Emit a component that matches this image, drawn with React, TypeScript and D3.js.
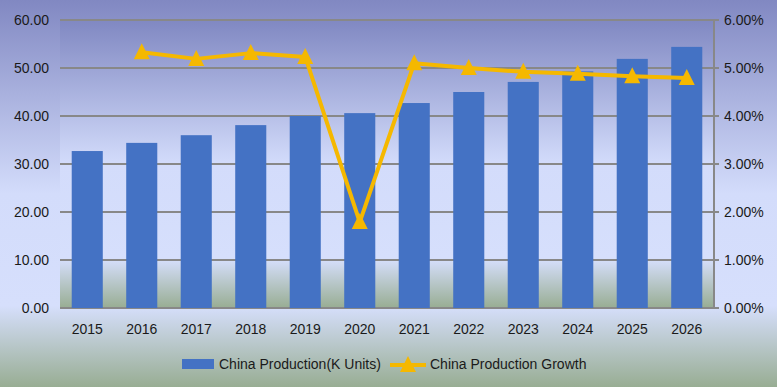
import React from "react";
import * as d3 from "d3";

const years = ["2015","2016","2017","2018","2019","2020","2021","2022","2023","2024","2025","2026"];
const production = [32.7, 34.4, 36.0, 38.1, 40.0, 40.6, 42.7, 45.0, 47.1, 49.3, 51.9, 54.4];
const growth: (number | null)[] = [null, 5.33, 5.19, 5.31, 5.23, 1.79, 5.10, 5.00, 4.92, 4.88, 4.83, 4.79];
const leftTicks = [0, 10, 20, 30, 40, 50, 60];
const rightTicks = [0, 1, 2, 3, 4, 5, 6];

const W = 777, H = 387;
const plot = { left: 60, right: 714, top: 20, bottom: 308 };
const FONT = "'Liberation Sans', Arial, sans-serif";
const TXT = "#1a1a1a";
const BAR = "#4472C4";
const LINE = "#F5B800";
const GRID = "#888888";

export default function App() {
  const x = d3.scaleBand<string>().domain(years).range([plot.left, plot.right]).paddingInner(0.43).paddingOuter(0.215);
  const yL = d3.scaleLinear().domain([0, 60]).range([plot.bottom, plot.top]);
  const yR = d3.scaleLinear().domain([0, 6]).range([plot.bottom, plot.top]);
  const cx = (y: string) => (x(y) as number) + x.bandwidth() / 2;

  const pts = years.map((y, i) => ({ y, v: growth[i] })).filter(d => d.v !== null) as { y: string; v: number }[];
  const line = d3.line<{ y: string; v: number }>().x(d => cx(d.y)).y(d => yR(d.v));
  const tri = (px: number, py: number) => `M${px},${py - 9}L${px + 8},${py + 7}L${px - 8},${py + 7}Z`;

  return (
    <svg width={W} height={H} style={{ position: "absolute", left: 0, top: 0 }} fontFamily={FONT}>
      <defs>
        <linearGradient id="bgOuter" x1="0" y1="0" x2="0" y2="1">
          <stop offset="0" stopColor="#8188c2" />
          <stop offset="0.5" stopColor="#d3dcfb" />
          <stop offset="0.79" stopColor="#d6dffc" />
          <stop offset="1" stopColor="#98ad93" />
        </linearGradient>
        <linearGradient id="bgPlot" x1="0" y1="0" x2="0" y2="1">
          <stop offset="0" stopColor="#8088c2" />
          <stop offset="0.5" stopColor="#d3dcfb" />
          <stop offset="0.83" stopColor="#d6dffc" />
          <stop offset="1" stopColor="#98ad93" />
        </linearGradient>
      </defs>
      <rect x={0} y={0} width={W} height={H} fill="url(#bgOuter)" />
      <rect x={plot.left} y={plot.top} width={plot.right - plot.left} height={plot.bottom - plot.top} fill="url(#bgPlot)" />
      {leftTicks.map(t => (
        <line key={"g" + t} x1={plot.left} x2={plot.right} y1={yL(t)} y2={yL(t)} stroke={GRID} strokeWidth={2} />
      ))}
      {years.map((y, i) => (
        <rect key={y} x={x(y)} y={yL(production[i])} width={x.bandwidth()} height={yL(0) - yL(production[i])} fill={BAR} />
      ))}
      <line x1={plot.right} x2={plot.right} y1={plot.top} y2={plot.bottom} stroke={GRID} strokeWidth={2} />
      {rightTicks.map(t => (
        <line key={"rt" + t} x1={plot.right} x2={plot.right + 5} y1={yR(t)} y2={yR(t)} stroke={GRID} strokeWidth={2} />
      ))}
      {leftTicks.map(t => (
        <text key={"l" + t} x={49} y={yL(t) + 5} textAnchor="end" fontSize={14} fill={TXT}>{t.toFixed(2)}</text>
      ))}
      {rightTicks.map(t => (
        <text key={"r" + t} x={724} y={yR(t) + 5} textAnchor="start" fontSize={14} fill={TXT}>{t.toFixed(2) + "%"}</text>
      ))}
      {years.map(y => (
        <text key={"x" + y} x={cx(y)} y={334} textAnchor="middle" fontSize={14} fill={TXT}>{y}</text>
      ))}
      <path d={line(pts) || ""} fill="none" stroke={LINE} strokeWidth={4} strokeLinejoin="round" />
      {pts.map(d => (
        <path key={"m" + d.y} d={tri(cx(d.y), yR(d.v))} fill={LINE} />
      ))}
      <g>
        <rect x={182} y={359} width={32} height={10} fill={BAR} />
        <text x={219} y={369} fontSize={14} fill={TXT}>China Production(K Units)</text>
        <line x1={390} x2={426} y1={365} y2={365} stroke={LINE} strokeWidth={4} />
        <path d={tri(408, 365)} fill={LINE} />
        <text x={430} y={369} fontSize={14} fill={TXT}>China Production Growth</text>
      </g>
    </svg>
  );
}
